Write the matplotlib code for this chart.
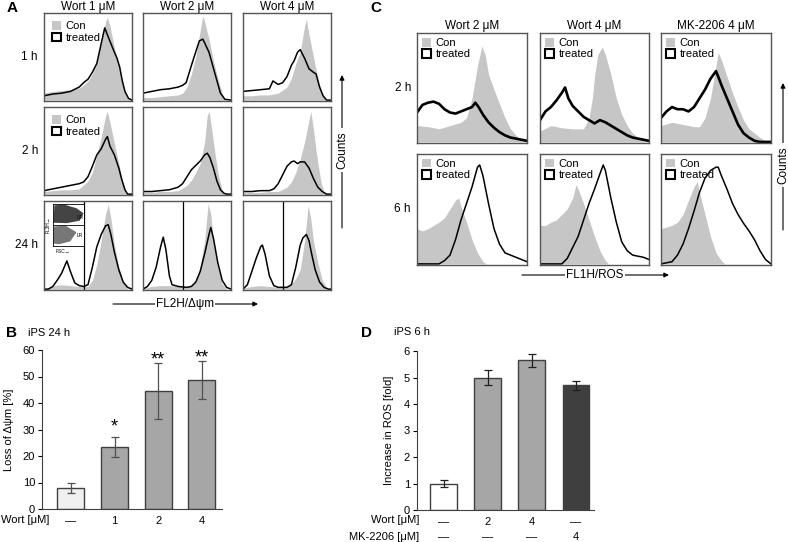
import matplotlib
matplotlib.use("Agg")
import matplotlib.pyplot as plt
from matplotlib.patches import Patch, Polygon

plt.rcParams['font.family'] = ['Liberation Sans', 'DejaVu Sans']

W, H = 788, 542

# ---- panel A: mitochondrial potential histograms (x %, height %) ----
a_cols = ["Wort 1 μM", "Wort 2 μM", "Wort 4 μM"]
a_rows = ["1 h", "2 h", "24 h"]

a11_con_x = [0, 10, 20, 30, 40, 45, 50, 55, 60, 65, 70, 72, 75, 80, 85, 90, 94, 100]
a11_con = [8, 10, 11, 12, 14, 17, 22, 30, 42, 68, 90, 95, 85, 60, 40, 18, 3, 0]
a11_trt_x = [0, 10, 20, 30, 40, 45, 50, 55, 60, 65, 69, 72, 76, 80, 83, 86, 89, 92, 96, 100]
a11_trt = [5, 7, 8, 10, 15, 20, 24, 32, 42, 65, 83, 75, 65, 55, 48, 38, 22, 10, 2, 0]

a12_con_x = [0, 10, 20, 30, 40, 45, 50, 55, 60, 65, 68, 70, 75, 80, 85, 90, 93, 100]
a12_con = [3, 3, 4, 5, 6, 8, 15, 30, 50, 80, 97, 90, 70, 45, 25, 8, 0, 0]
a12_trt_x = [0, 10, 20, 30, 40, 45, 49, 56, 64, 68, 75, 83, 88, 93, 100]
a12_trt = [8, 10, 12, 13, 15, 17, 20, 43, 68, 70, 55, 26, 8, 1, 0]

a13_con_x = [0, 10, 20, 30, 40, 50, 55, 60, 65, 70, 72, 75, 80, 85, 90, 94, 100]
a13_con = [5, 5, 6, 6, 8, 15, 25, 42, 55, 85, 93, 75, 50, 25, 8, 0, 0]
a13_trt_x = [0, 10, 20, 30, 34, 40, 45, 50, 55, 58, 62, 65, 70, 75, 80, 83, 87, 91, 95, 100]
a13_trt = [10, 11, 12, 13, 22, 18, 20, 27, 40, 45, 55, 58, 48, 36, 32, 30, 15, 5, 0, 0]

a21_con_x = [0, 10, 20, 30, 40, 50, 55, 60, 65, 70, 72, 75, 80, 85, 90, 94, 100]
a21_con = [3, 4, 5, 5, 6, 15, 25, 45, 65, 90, 95, 82, 58, 35, 12, 0, 0]
a21_trt_x = [0, 10, 20, 30, 40, 45, 50, 55, 60, 65, 70, 72, 75, 80, 85, 88, 92, 95, 100]
a21_trt = [4, 6, 8, 10, 12, 14, 20, 32, 45, 52, 63, 66, 55, 45, 30, 18, 5, 0, 0]

a22_con_x = [0, 10, 20, 30, 40, 50, 55, 60, 65, 70, 73, 75, 78, 82, 86, 90, 93, 100]
a22_con = [2, 2, 3, 3, 4, 10, 16, 25, 35, 60, 90, 95, 75, 45, 20, 5, 0, 0]
a22_trt_x = [0, 10, 20, 30, 40, 45, 50, 55, 60, 65, 70, 73, 76, 80, 84, 88, 92, 95, 100]
a22_trt = [3, 3, 4, 5, 8, 12, 20, 28, 33, 38, 45, 47, 42, 30, 15, 5, 1, 0, 0]

a23_con_x = [0, 10, 20, 30, 40, 50, 55, 60, 65, 70, 75, 77, 80, 83, 86, 89, 92, 95, 100]
a23_con = [2, 2, 2, 3, 3, 8, 14, 25, 40, 60, 85, 95, 75, 50, 30, 12, 3, 0, 0]
a23_trt_x = [0, 10, 20, 30, 35, 40, 45, 50, 55, 58, 62, 65, 70, 75, 80, 85, 90, 95, 100]
a23_trt = [3, 3, 4, 4, 6, 12, 22, 32, 37, 38, 35, 37, 37, 30, 18, 8, 3, 0, 0]

a31_con_x = [0, 10, 20, 30, 40, 50, 55, 60, 65, 70, 73, 76, 80, 85, 90, 95, 100]
a31_con = [0, 4, 5, 4, 3, 3, 10, 28, 55, 85, 96, 80, 50, 25, 8, 0, 0]
a31_trt_x = [0, 5, 10, 15, 20, 26, 30, 35, 40, 45, 50, 55, 60, 65, 70, 73, 76, 80, 85, 90, 95, 100]
a31_trt = [0, 0, 3, 10, 18, 32, 20, 7, 4, 3, 5, 25, 48, 62, 72, 73, 62, 42, 22, 8, 2, 0]

a32_con_x = [0, 10, 20, 30, 40, 50, 60, 65, 70, 74, 77, 80, 85, 90, 95, 100]
a32_con = [1, 3, 4, 4, 3, 3, 8, 25, 55, 97, 85, 55, 25, 6, 0, 0]
a32_trt_x = [0, 5, 10, 15, 20, 23, 26, 30, 33, 40, 50, 55, 60, 65, 70, 75, 77, 80, 85, 90, 95, 100]
a32_trt = [0, 3, 10, 25, 48, 59, 45, 15, 5, 3, 2, 3, 8, 20, 40, 62, 70, 58, 30, 10, 2, 0]

a33_con_x = [0, 10, 20, 30, 40, 50, 55, 60, 65, 70, 74, 77, 80, 85, 90, 95, 98, 100]
a33_con = [1, 3, 4, 3, 2, 3, 6, 12, 22, 55, 95, 80, 55, 30, 10, 2, 0, 0]
a33_trt_x = [0, 5, 10, 15, 20, 22, 25, 30, 35, 40, 50, 55, 60, 65, 68, 72, 75, 78, 82, 87, 92, 97, 100]
a33_trt = [0, 5, 20, 35, 48, 50, 40, 15, 4, 2, 2, 5, 25, 50, 58, 62, 55, 40, 22, 8, 2, 0, 0]

a_gate = 45  # vertical gate in the 24 h row

# inset dot plot outline (FSC vs FL3H)
ur_cloud_x = [0.02, 0.05, 0.35, 0.75, 0.97, 0.85, 0.45, 0.02]
ur_cloud_y = [0.55, 0.97, 0.99, 0.9, 0.78, 0.6, 0.54, 0.55]
lr_cloud_x = [0.02, 0.04, 0.4, 0.75, 0.55, 0.2]
lr_cloud_y = [0.05, 0.46, 0.48, 0.32, 0.1, 0.03]

# ---- panel C: ROS histograms ----
c_cols = ["Wort 2 μM", "Wort 4 μM", "MK-2206 4 μM"]
c_rows = ["2 h", "6 h"]

c11_con_x = [0, 10, 20, 30, 40, 45, 50, 55, 59, 62, 65, 70, 75, 80, 85, 90, 95, 100]
c11_con = [15, 14, 12, 15, 18, 22, 40, 70, 88, 80, 62, 48, 35, 22, 12, 6, 2, 0]
c11_trt_x = [0, 5, 10, 15, 20, 25, 30, 35, 40, 45, 50, 53, 56, 60, 65, 70, 75, 80, 85, 90, 95, 100]
c11_trt = [27, 34, 36, 37, 35, 30, 27, 26, 28, 30, 32, 36, 32, 25, 18, 13, 9, 6, 4, 3, 2, 1]

c12_con_x = [0, 10, 20, 30, 40, 45, 48, 50, 53, 57, 60, 65, 70, 75, 80, 85, 90, 95, 100]
c12_con = [10, 15, 13, 12, 12, 22, 40, 60, 80, 87, 80, 62, 40, 25, 15, 8, 4, 2, 0]
c12_trt_x = [0, 5, 10, 15, 20, 23, 26, 30, 35, 40, 45, 50, 55, 60, 65, 70, 75, 80, 85, 90, 95, 100]
c12_trt = [20, 28, 32, 38, 45, 50, 40, 33, 28, 23, 20, 17, 20, 18, 15, 12, 9, 6, 4, 3, 2, 1]

c13_con_x = [0, 10, 20, 30, 35, 40, 45, 50, 52, 55, 60, 65, 70, 75, 80, 85, 90, 95, 100]
c13_con = [15, 18, 16, 14, 14, 22, 40, 70, 82, 75, 60, 45, 32, 20, 12, 8, 4, 1, 0]
c13_trt_x = [0, 5, 10, 15, 20, 25, 30, 35, 40, 45, 50, 52, 55, 60, 65, 70, 75, 80, 85, 90, 100]
c13_trt = [22, 28, 32, 30, 30, 28, 32, 40, 48, 58, 65, 60, 52, 40, 28, 16, 8, 4, 1, 0, 0]

c21_con_x = [0, 5, 10, 15, 20, 25, 30, 35, 38, 40, 45, 50, 55, 60, 63, 100]
c21_con = [32, 30, 32, 35, 38, 42, 50, 58, 60, 52, 38, 22, 10, 2, 0, 0]
c21_trt_x = [0, 20, 25, 30, 35, 40, 45, 50, 55, 57, 60, 65, 70, 75, 80, 85, 90, 95, 100]
c21_trt = [0, 0, 3, 8, 22, 40, 55, 70, 88, 90, 80, 55, 32, 18, 10, 8, 6, 4, 2]

c22_con_x = [0, 5, 10, 15, 20, 25, 30, 33, 35, 40, 45, 50, 55, 60, 63, 100]
c22_con = [35, 35, 38, 40, 45, 50, 60, 72, 68, 55, 40, 25, 12, 3, 0, 0]
c22_trt_x = [0, 20, 25, 30, 35, 40, 45, 50, 55, 58, 60, 65, 70, 75, 80, 85, 90, 95, 100]
c22_trt = [0, 0, 5, 15, 25, 40, 55, 68, 82, 90, 85, 60, 38, 20, 12, 8, 7, 6, 4]

c23_con_x = [0, 10, 15, 20, 25, 30, 33, 35, 40, 45, 50, 55, 58, 100]
c23_con = [32, 35, 38, 45, 58, 70, 75, 65, 45, 25, 10, 3, 0, 0]
c23_trt_x = [0, 10, 15, 20, 25, 30, 35, 40, 45, 50, 52, 55, 60, 65, 70, 75, 80, 85, 90, 95, 100]
c23_trt = [0, 2, 8, 18, 32, 48, 65, 78, 85, 88, 88, 80, 68, 55, 45, 37, 30, 22, 12, 4, 0]

# ---- panel B: loss of membrane potential, iPS 24 h ----
b_labels = ["—", "1", "2", "4"]
b_vals = [8.0, 23.3, 44.5, 48.7]
b_err = [2.0, 3.8, 10.6, 7.3]
b_stars = ["", "*", "**", "**"]

# ---- panel D: ROS increase, iPS 6 h ----
d_wort = ["—", "2", "4", "—"]
d_mk = ["—", "—", "—", "4"]
d_vals = [1.0, 5.0, 5.65, 4.7]
d_err = [0.13, 0.3, 0.25, 0.17]

CON = "#c6c6c6"
EDGE = "#555555"


def px(x0, y0, x1, y1):
    return [x0 / W, 1 - y1 / H, (x1 - x0) / W, (y1 - y0) / H]


def hist_box(rect, con_x, con, trt_x, trt, lw=1.1, legend=False, pad=0.25):
    ax = fig.add_axes(px(*rect))
    ax.fill_between(con_x, con, color=CON, lw=0)
    ax.plot(trt_x, trt, color="k", lw=lw)
    ax.set_xlim(0, 100)
    ax.set_ylim(-1, 100)
    ax.set_xticks([])
    ax.set_yticks([])
    for s in ax.spines.values():
        s.set_color(EDGE)
        s.set_linewidth(1)
    if legend:
        handles = [Patch(facecolor=CON, edgecolor="none"),
                   Patch(facecolor="white", edgecolor="k", lw=1.5)]
        ax.legend(handles, ["Con", "treated"], loc="upper left", frameon=False,
                  fontsize=8, handlelength=0.8, handleheight=0.8,
                  handletextpad=0.4, labelspacing=0.1, borderaxespad=pad,
                  borderpad=0.2)
    return ax


fig = plt.figure(figsize=(W / 100, H / 100), dpi=100)

a_x = [(44, 132), (143, 231), (243, 331)]
a_y = [(13, 101), (107, 195), (201, 290)]
a_data = [
    [(a11_con_x, a11_con, a11_trt_x, a11_trt), (a12_con_x, a12_con, a12_trt_x, a12_trt),
     (a13_con_x, a13_con, a13_trt_x, a13_trt)],
    [(a21_con_x, a21_con, a21_trt_x, a21_trt), (a22_con_x, a22_con, a22_trt_x, a22_trt),
     (a23_con_x, a23_con, a23_trt_x, a23_trt)],
    [(a31_con_x, a31_con, a31_trt_x, a31_trt), (a32_con_x, a32_con, a32_trt_x, a32_trt),
     (a33_con_x, a33_con, a33_trt_x, a33_trt)],
]
for r in range(3):
    for c in range(3):
        rect = (a_x[c][0], a_y[r][0], a_x[c][1], a_y[r][1])
        ax = hist_box(rect, *a_data[r][c], legend=(c == 0 and r < 2), pad=0.55)
        if r == 2:
            ax.axvline(a_gate, color="k", lw=0.9)
            if c == 0:
                ins = ax.inset_axes([0.10, 0.50, 0.36, 0.465])
                ins.add_patch(Polygon(list(zip(ur_cloud_x, ur_cloud_y)), closed=True,
                                      facecolor="#444444", edgecolor="none"))
                ins.add_patch(Polygon(list(zip(lr_cloud_x, lr_cloud_y)), closed=True,
                                      facecolor="#777777", edgecolor="none"))
                ins.axhline(0.5, color="k", lw=0.6)
                ins.set_xlim(0, 1)
                ins.set_ylim(0, 1)
                ins.set_xticks([])
                ins.set_yticks([])
                for s in ins.spines.values():
                    s.set_linewidth(0.6)
                ins.text(0.96, 0.68, "UR", fontsize=3.5, ha="right", va="center")
                ins.text(0.96, 0.25, "LR", fontsize=3.5, ha="right", va="center")
                ax.text(0.13, 0.43, "FSC→", fontsize=3.5, transform=ax.transAxes, va="center")
                ax.text(0.05, 0.73, "FL3H→", fontsize=3.5, rotation=90,
                        transform=ax.transAxes, va="center", ha="center")

c_x = [(417, 527), (540, 649), (661, 771)]
c_y = [(33, 143), (154, 265)]
c_data = [
    [(c11_con_x, c11_con, c11_trt_x, c11_trt), (c12_con_x, c12_con, c12_trt_x, c12_trt),
     (c13_con_x, c13_con, c13_trt_x, c13_trt)],
    [(c21_con_x, c21_con, c21_trt_x, c21_trt), (c22_con_x, c22_con, c22_trt_x, c22_trt),
     (c23_con_x, c23_con, c23_trt_x, c23_trt)],
]
for r in range(2):
    for c in range(3):
        rect = (c_x[c][0], c_y[r][0], c_x[c][1], c_y[r][1])
        hist_box(rect, *c_data[r][c], lw=(1.9 if r == 0 else 1.1), legend=True)

# ---- panel B bar chart ----
axb = fig.add_axes(px(42, 350, 222, 509))
bx = range(len(b_vals))
axb.bar(bx, b_vals, width=0.62, color=["#f0f0f0", "#a6a6a6", "#a6a6a6", "#a6a6a6"],
        edgecolor="#404040", lw=1)
axb.errorbar(bx, b_vals, yerr=b_err, fmt="none", ecolor="#505050", elinewidth=0.9,
             capsize=3, capthick=0.9)
for i, s in enumerate(b_stars):
    if s:
        axb.annotate(s, xy=(i, b_vals[i] + b_err[i]), xytext=(0, 1 if len(s) == 1 else -4),
                     textcoords="offset points", ha="center", va="bottom", fontsize=13)
axb.set_xlim(-0.66, 3.46)
axb.set_ylim(0, 60)
axb.set_yticks(range(0, 61, 10))
axb.set_xticks(list(bx))
axb.set_xticklabels(b_labels)
axb.tick_params(axis="x", length=0, pad=5, labelsize=8)
axb.tick_params(axis="y", length=3, pad=2, labelsize=8)
axb.spines["top"].set_visible(False)
axb.spines["right"].set_visible(False)
for s in ("left", "bottom"):
    axb.spines[s].set_color("#404040")
axb.set_ylabel("Loss of Δψm [%]", fontsize=8, labelpad=6)

# ---- panel D bar chart ----
axd = fig.add_axes(px(417, 351, 594, 510))
dx = range(len(d_vals))
axd.bar(dx, d_vals, width=0.61, color=["white", "#a6a6a6", "#a6a6a6", "#3f3f3f"],
        edgecolor="#404040", lw=1)
axd.errorbar(dx, d_vals, yerr=d_err, fmt="none", ecolor="#202020", elinewidth=0.9,
             capsize=3, capthick=0.9)
axd.set_xlim(-0.61, 3.41)
axd.set_ylim(0, 6)
axd.set_yticks(range(0, 7))
axd.set_xticks(list(dx))
axd.set_xticklabels(d_wort)
axd.tick_params(axis="x", length=0, pad=5, labelsize=8)
axd.tick_params(axis="y", length=3, pad=2, labelsize=8)
axd.spines["top"].set_visible(False)
axd.spines["right"].set_visible(False)
for s in ("left", "bottom"):
    axd.spines[s].set_color("#404040")
axd.set_ylabel("Increase in ROS [fold]", fontsize=8, labelpad=7)
for i, lab in enumerate(d_mk):
    axd.annotate(lab, xy=(i, 0), xycoords=("data", "axes fraction"), xytext=(0, -19.5),
                 textcoords="offset points", ha="center", va="center", fontsize=8)

# ---- overlay for labels and arrows (pixel coords) ----
ov = fig.add_axes([0, 0, 1, 1], zorder=10)
ov.set_xlim(0, W)
ov.set_ylim(H, 0)
ov.axis("off")

for lab, pos in [("A", (12, 8)), ("C", (376, 8)), ("B", (12, 333)), ("D", (367, 333))]:
    ov.text(*pos, lab, fontsize=11, fontweight="bold", ha="center", va="center")

for c, t in enumerate(a_cols):
    ov.text(sum(a_x[c]) / 2, 7, t, fontsize=8.5, ha="center", va="center")
for r, t in enumerate(a_rows):
    ov.text(38, sum(a_y[r]) / 2, t, fontsize=8.5, ha="right", va="center")
for c, t in enumerate(c_cols):
    ov.text(sum(c_x[c]) / 2, 26, t, fontsize=8.5, ha="center", va="center")
for r, t in enumerate(c_rows):
    ov.text(411, sum(c_y[r]) / 2, t, fontsize=8.5, ha="right", va="center")

arrow = dict(arrowstyle="-|>", lw=0.8, color="k", mutation_scale=7, shrinkA=0, shrinkB=0)
ov.annotate("", xy=(258, 304), xytext=(113, 304), arrowprops=arrow)
ov.text(185, 304, "FL2H/Δψm", fontsize=8.5, ha="center", va="center",
        bbox=dict(facecolor="white", edgecolor="none", pad=1))
ov.annotate("", xy=(669, 275), xytext=(522, 275), arrowprops=arrow)
ov.text(595, 275, "FL1H/ROS", fontsize=8.5, ha="center", va="center",
        bbox=dict(facecolor="white", edgecolor="none", pad=1))
ov.annotate("", xy=(342, 75), xytext=(342, 228), arrowprops=arrow)
ov.text(342, 150, "Counts", fontsize=8.5, rotation=90, ha="center", va="center",
        bbox=dict(facecolor="white", edgecolor="none", pad=2))
ov.annotate("", xy=(783, 83), xytext=(783, 230), arrowprops=arrow)
ov.text(783, 165, "Counts", fontsize=8.5, rotation=90, ha="center", va="center",
        bbox=dict(facecolor="white", edgecolor="none", pad=2))

ov.text(28, 333, "iPS 24 h", fontsize=8, ha="left", va="center")
ov.text(394, 332, "iPS 6 h", fontsize=8, ha="left", va="center")
ov.text(1, 520, "Wort [μM]", fontsize=8, ha="left", va="center")
ov.text(419, 520, "Wort [μM]", fontsize=8, ha="right", va="center")
ov.text(419, 537, "MK-2206 [μM]", fontsize=8, ha="right", va="center")

fig.savefig("out.png", dpi=100)
